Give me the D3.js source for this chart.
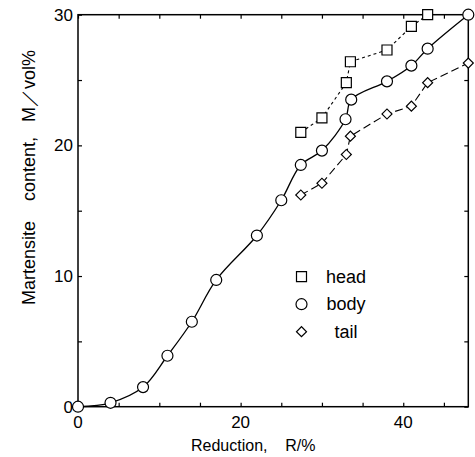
<!DOCTYPE html>
<html>
<head>
<meta charset="utf-8">
<script src="https://cdn.jsdelivr.net/npm/d3@7"></script>
<style>
  body { margin: 0; background: #fff; }
  text { font-family: "Liberation Sans", Arial, sans-serif; fill: #000; }
</style>
</head>
<body>
<div id="viz"></div>
<script>
// reduction (%) and martensite content (vol%)
const bodyX = [0, 4, 8, 11, 14, 17, 22, 25, 27.4, 30, 32.9, 33.6, 38, 41, 43, 48]
const bodyY = [0, 0.3, 1.5, 3.9, 6.5, 9.7, 13.1, 15.8, 18.5, 19.6, 22.0, 23.5, 24.9, 26.1, 27.4, 30.0]
const headX = [27.4, 30, 33, 33.5, 38, 41, 43]
const headY = [21.0, 22.1, 24.8, 26.4, 27.3, 29.1, 30.0]
const tailX = [27.4, 30, 33, 33.5, 38, 41, 43, 48]
const tailY = [16.2, 17.1, 19.3, 20.7, 22.4, 23.0, 24.8, 26.3]
const xTicks = [0, 20, 40]
const yTicks = [0, 10, 20, 30]
const legendNames = ["head", "body", "tail"]

function chart () {
    const width = 475
    const height = 457
    const margin = {top: 14.7, right: 6.7, bottom: 50.3, left: 78}
    const w = width - margin.left - margin.right
    const h = height - margin.top - margin.bottom

    const svg = d3.select("#viz").append("svg")
                  .attr("width", width)
                  .attr("height", height)

    const g = svg.append("g").attr("transform", `translate(${margin.left},${margin.top})`)

    const x = d3.scaleLinear().domain([0, 48]).range([0, w])
    const y = d3.scaleLinear().domain([0, 30]).range([h, 0])

    // frame with inward ticks on all four sides
    const minorX = d3.range(0, 48, 5)
    const minorY = d3.range(0, 31, 5)
    const axisStyle = sel => {
        sel.select(".domain").remove()
        sel.selectAll("line").attr("stroke", "#000").attr("stroke-width", 1.2)
    }
    g.append("g").attr("transform", `translate(0,${h})`)
     .call(d3.axisBottom(x).tickValues(minorX).tickSize(-4).tickFormat(""))
     .call(axisStyle)
    g.append("g")
     .call(d3.axisTop(x).tickValues(minorX).tickSize(-4).tickFormat(""))
     .call(axisStyle)
    g.append("g")
     .call(d3.axisLeft(y).tickValues(minorY).tickSize(-4).tickFormat(""))
     .call(axisStyle)
    g.append("g").attr("transform", `translate(${w},0)`)
     .call(d3.axisRight(y).tickValues(minorY).tickSize(-4).tickFormat(""))
     .call(axisStyle)

    g.append("rect").attr("width", w).attr("height", h)
     .attr("fill", "none").attr("stroke", "#000").attr("stroke-width", 1.5)

    // tick labels
    g.append("g").selectAll("text").data(xTicks).join("text")
     .attr("x", d => x(d)).attr("y", h + 21)
     .attr("text-anchor", "middle").attr("font-size", 17)
     .text(d => d)
    g.append("g").selectAll("text").data(yTicks).join("text")
     .attr("x", -5).attr("y", d => y(d) + 6)
     .attr("text-anchor", "end").attr("font-size", 17)
     .text(d => d)

    // axis titles
    svg.append("text")
       .attr("x", 191).attr("y", 451)
       .attr("font-size", 16)
       .style("white-space", "pre")
       .text("Reduction,    R/%")
    svg.append("text")
       .attr("transform", "translate(35,305) rotate(-90)")
       .attr("font-size", 18)
       .style("white-space", "pre")
       .text("Martensite    content,   M\uFF0Fvol%")

    const line = (xs, ys, curve) => d3.line()
        .x(i => x(xs[i])).y(i => y(ys[i])).curve(curve)(d3.range(xs.length))

    g.append("path").attr("d", line(headX, headY, d3.curveLinear))
     .attr("fill", "none").attr("stroke", "#000").attr("stroke-width", 1.1)
     .attr("stroke-dasharray", "3,3")
    g.append("path").attr("d", line(tailX, tailY, d3.curveLinear))
     .attr("fill", "none").attr("stroke", "#000").attr("stroke-width", 1.1)
     .attr("stroke-dasharray", "8,4")
    g.append("path").attr("d", line(bodyX, bodyY, d3.curveCatmullRom.alpha(0.5)))
     .attr("fill", "none").attr("stroke", "#000").attr("stroke-width", 1.3)

    const sq = d3.symbol().type(d3.symbolSquare).size(100)
    const ci = d3.symbol().type(d3.symbolCircle).size(Math.PI * 5.5 * 5.5)
    const di = d3.symbol().type(d3.symbolSquare).size(50)

    const markers = (xs, ys, sym, rot) => g.append("g").selectAll("path")
        .data(d3.range(xs.length)).join("path")
        .attr("transform", i => `translate(${x(xs[i])},${y(ys[i])}) rotate(${rot})`)
        .attr("d", sym)
        .attr("fill", "#fff").attr("stroke", "#000").attr("stroke-width", 1.2)

    markers(headX, headY, sq, 0)
    markers(tailX, tailY, di, 45)
    markers(bodyX, bodyY, ci, 0)

    // legend
    const legSyms = [sq, ci, di]
    const leg = svg.append("g")
    legendNames.forEach((name, i) => {
        const cy = 276.7 + i * 27.5
        leg.append("path").attr("d", legSyms[i])
           .attr("transform", `translate(301.5,${cy})` + (i === 2 ? " rotate(45)" : ""))
           .attr("fill", "#fff").attr("stroke", "#000").attr("stroke-width", 1.2)
        leg.append("text").attr("x", 346).attr("y", cy + 6)
           .attr("text-anchor", "middle").attr("font-size", 18)
           .text(name)
    })
}

chart()
</script>
</body>
</html>
